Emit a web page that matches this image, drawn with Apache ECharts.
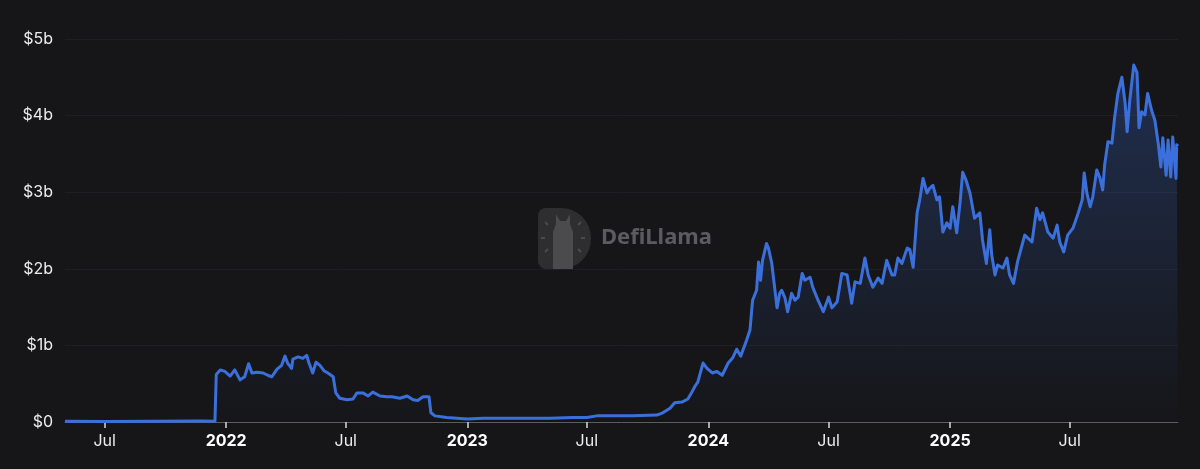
<!DOCTYPE html>
<html>
<head>
<meta charset="utf-8">
<script src="https://cdn.jsdelivr.net/npm/echarts@6/dist/echarts.min.js"></script>
<style>
html,body{margin:0;padding:0;background:#161619;}
#chart{width:1200px;height:469px;}
</style>
</head>
<body>
<div id="chart"></div>
<script>
// TVL in billions of USD
const dates = [
'2021-05-02','2021-07-02','2021-09-08','2021-11-23','2021-12-15','2021-12-17','2021-12-23','2021-12-30',
'2022-01-07','2022-01-14','2022-01-22','2022-01-29','2022-02-04','2022-02-09','2022-02-17','2022-02-26',
'2022-03-05','2022-03-11','2022-03-19','2022-03-26','2022-03-31','2022-04-04','2022-04-10','2022-04-12',
'2022-04-20','2022-04-27','2022-05-03','2022-05-06','2022-05-12','2022-05-17','2022-05-23','2022-05-29',
'2022-06-04','2022-06-12','2022-06-16','2022-06-22','2022-07-03','2022-07-12','2022-07-18','2022-07-27',
'2022-08-04','2022-08-11','2022-08-22','2022-09-01','2022-09-09','2022-09-21','2022-10-02','2022-10-11',
'2022-10-18','2022-10-26','2022-11-04','2022-11-07','2022-11-13','2022-12-01','2023-01-01','2023-01-25',
'2023-03-17','2023-05-06','2023-06-10','2023-07-01','2023-07-16','2023-08-16','2023-09-09','2023-10-15',
'2023-10-24','2023-11-04','2023-11-11','2023-11-22','2023-12-01','2023-12-07','2023-12-12','2023-12-16',
'2023-12-24','2023-12-30','2024-01-07','2024-01-14','2024-01-22','2024-01-31','2024-02-07','2024-02-13',
'2024-02-19','2024-02-28','2024-03-04','2024-03-08','2024-03-14','2024-03-17','2024-03-20','2024-03-23',
'2024-03-29','2024-04-01','2024-04-06','2024-04-09','2024-04-14','2024-04-18','2024-04-21','2024-04-26',
'2024-04-30','2024-05-06','2024-05-11','2024-05-16','2024-05-22','2024-05-26','2024-06-03','2024-06-07',
'2024-06-15','2024-06-23','2024-07-01','2024-07-06','2024-07-14','2024-07-21','2024-07-29','2024-08-05',
'2024-08-10','2024-08-18','2024-08-25','2024-08-30','2024-09-06','2024-09-14','2024-09-20','2024-09-27',
'2024-10-05','2024-10-09','2024-10-14','2024-10-20','2024-10-28','2024-11-01','2024-11-06','2024-11-12',
'2024-11-16','2024-11-21','2024-11-27','2024-12-01','2024-12-06','2024-12-12','2024-12-16','2024-12-21',
'2024-12-27','2025-01-01','2025-01-05','2025-01-11','2025-01-16','2025-01-20','2025-01-25','2025-01-31',
'2025-02-07','2025-02-15','2025-02-19','2025-02-25','2025-03-02','2025-03-05','2025-03-10','2025-03-14',
'2025-03-22','2025-03-28','2025-04-01','2025-04-07','2025-04-13','2025-04-24','2025-05-05','2025-05-12',
'2025-05-17','2025-05-21','2025-05-29','2025-06-06','2025-06-12','2025-06-16','2025-06-22','2025-06-28',
'2025-07-06','2025-07-14','2025-07-20','2025-07-23','2025-07-27','2025-08-01','2025-08-05','2025-08-11',
'2025-08-16','2025-08-20','2025-08-23','2025-08-28','2025-09-03','2025-09-07','2025-09-12','2025-09-18',
'2025-09-23','2025-09-26','2025-09-30','2025-10-06','2025-10-11','2025-10-14','2025-10-18','2025-10-23',
'2025-10-27','2025-11-02','2025-11-07','2025-11-12','2025-11-16','2025-11-19','2025-11-24','2025-11-27',
'2025-12-01','2025-12-04','2025-12-09','2025-12-10','2025-12-12'
];
const tvl = [
0.01,0.008,0.01,0.012,0.01,0.62,0.68,0.66,
0.60,0.68,0.55,0.59,0.76,0.64,0.65,0.64,
0.61,0.59,0.69,0.74,0.86,0.77,0.70,0.82,
0.85,0.83,0.87,0.78,0.64,0.78,0.74,0.67,
0.64,0.59,0.38,0.31,0.29,0.30,0.38,0.38,
0.34,0.39,0.34,0.33,0.33,0.31,0.34,0.29,
0.28,0.33,0.33,0.12,0.08,0.06,0.04,0.05,
0.05,0.05,0.06,0.06,0.08,0.08,0.08,0.09,
0.12,0.18,0.25,0.26,0.30,0.39,0.47,0.52,
0.77,0.70,0.64,0.66,0.61,0.77,0.84,0.95,
0.86,1.07,1.20,1.59,1.72,2.09,1.85,2.11,
2.33,2.27,2.07,2.09,1.49,1.68,1.72,1.62,
1.44,1.68,1.59,1.63,1.94,1.85,1.89,1.76,
1.59,1.44,1.63,1.49,1.57,1.94,1.92,1.55,
1.83,1.81,2.14,1.92,1.76,1.88,1.81,2.11,
1.92,1.92,2.14,2.07,2.27,2.25,2.02,2.73,
2.90,3.18,2.99,3.05,3.09,2.90,2.94,2.48,
2.60,2.53,2.81,2.47,2.86,3.26,3.16,2.99,
2.66,2.73,2.38,2.07,2.51,2.18,1.92,2.05,
2.01,2.14,1.92,1.81,2.09,2.44,2.35,2.79,
2.64,2.73,2.48,2.40,2.57,2.35,2.22,2.44,
2.53,2.73,2.90,3.25,2.99,2.81,2.94,3.29,
3.18,3.03,3.36,3.66,3.64,3.97,4.29,4.50,
4.16,3.79,4.20,4.66,4.56,3.84,4.05,4.01,
4.29,4.07,3.94,3.64,3.33,3.71,3.22,3.68,
3.20,3.72,3.18,3.62,3.60
];
const tickDates = ['2021-07-01','2022-01-01','2022-07-01','2023-01-01','2023-07-01','2024-01-01','2024-07-01','2025-01-01','2025-07-01'];
const tickLabels = ['Jul','2022','Jul','2023','Jul','2024','Jul','2025','Jul'];
const yTicks = [0,1,2,3,4,5];

function toTs(s){const p=s.split('-').map(Number);return Date.UTC(p[0],p[1]-1,p[2]);}
const tickTs = tickDates.map(toTs);
const seriesData = dates.map((d,i)=>[toTs(d), tvl[i]]);

const chart = echarts.init(document.getElementById('chart'), null, {renderer:'canvas'});
const FONT = 'Inter, "Noto Sans", sans-serif';
chart.setOption({
  backgroundColor:'#161619',
  animation:false,
  grid:{left:65,right:22,top:39,bottom:47,containLabel:false},
  xAxis:{
    type:'value',
    min:toTs(dates[0]),
    max:toTs(dates[dates.length-1]),
    axisLine:{show:true,lineStyle:{color:'#5c5c60',width:1}},
    axisTick:{show:true,customValues:tickTs,length:6,lineStyle:{color:'#d8d8d8',width:1.5}},
    splitLine:{show:false},
    axisLabel:{
      customValues:tickTs,
      showMinLabel:true,showMaxLabel:true,
      margin:11,
      color:'#ececec',
      fontFamily:FONT,
      fontSize:16,
      formatter:function(v){
        let i = tickTs.indexOf(v);
        if(i<0){ let best=-1,bd=Infinity; tickTs.forEach((t,k)=>{const dd=Math.abs(t-v); if(dd<bd){bd=dd;best=k;}}); i = bd<86400000*2?best:-1; }
        const t = i>=0 ? tickLabels[i] : '';
        return /^\d{4}$/.test(t) ? '{b|'+t+'}' : t;
      },
      rich:{b:{fontWeight:'bold',fontSize:16,color:'#ffffff',fontFamily:FONT}}
    }
  },
  yAxis:{
    type:'value',
    min:0,max:5,interval:1,
    axisLine:{show:false},
    axisTick:{show:false},
    splitLine:{show:true,lineStyle:{color:'#1f1f23',width:1}},
    axisLabel:{
      margin:12,
      color:'#ececec',
      fontFamily:FONT,
      fontSize:16,
      formatter:function(v){return v===0?'$0':'$'+v+'b';}
    }
  },
  graphic:[
    {type:'rect',left:538,top:208,shape:{width:53,height:61,r:[8,30,30,8]},style:{fill:'#2e2e31'},z:0,silent:true},
    {type:'polygon',shape:{points:[[553,269],[553,232],[556,224],[556,214],[560,221],[566,221],[570,214],[570,224],[573,232],[573,269]]},style:{fill:'#4b4b4e'},z:0,silent:true},
    {type:'line',shape:{x1:545,y1:222,x2:548,y2:225},style:{stroke:'#4b4b4e',lineWidth:2},z:0,silent:true},
    {type:'line',shape:{x1:541,y1:238,x2:545,y2:238},style:{stroke:'#4b4b4e',lineWidth:2},z:0,silent:true},
    {type:'line',shape:{x1:545,y1:252,x2:548,y2:249},style:{stroke:'#4b4b4e',lineWidth:2},z:0,silent:true},
    {type:'line',shape:{x1:578,y1:225,x2:581,y2:222},style:{stroke:'#4b4b4e',lineWidth:2},z:0,silent:true},
    {type:'line',shape:{x1:581,y1:238,x2:585,y2:238},style:{stroke:'#4b4b4e',lineWidth:2},z:0,silent:true},
    {type:'line',shape:{x1:578,y1:249,x2:581,y2:252},style:{stroke:'#4b4b4e',lineWidth:2},z:0,silent:true},
    {type:'text',left:601,top:227,style:{text:'DefiLlama',fill:'#5c5c60',font:'bold 22px "Noto Sans", Inter, sans-serif'},z:0,silent:true}
  ],
  series:[{
    type:'line',
    data:seriesData,
    showSymbol:false,
    smooth:false,
    lineStyle:{color:'#3b70dc',width:3,join:'round'},
    itemStyle:{color:'#3b70dc'},
    areaStyle:{
      color:new echarts.graphic.LinearGradient(0,0,0,1,[
        {offset:0,color:'rgba(59,112,220,0.40)'},
        {offset:1,color:'rgba(59,112,220,0.0)'}
      ])
    },
    z:3
  }]
});
</script>
</body>
</html>
